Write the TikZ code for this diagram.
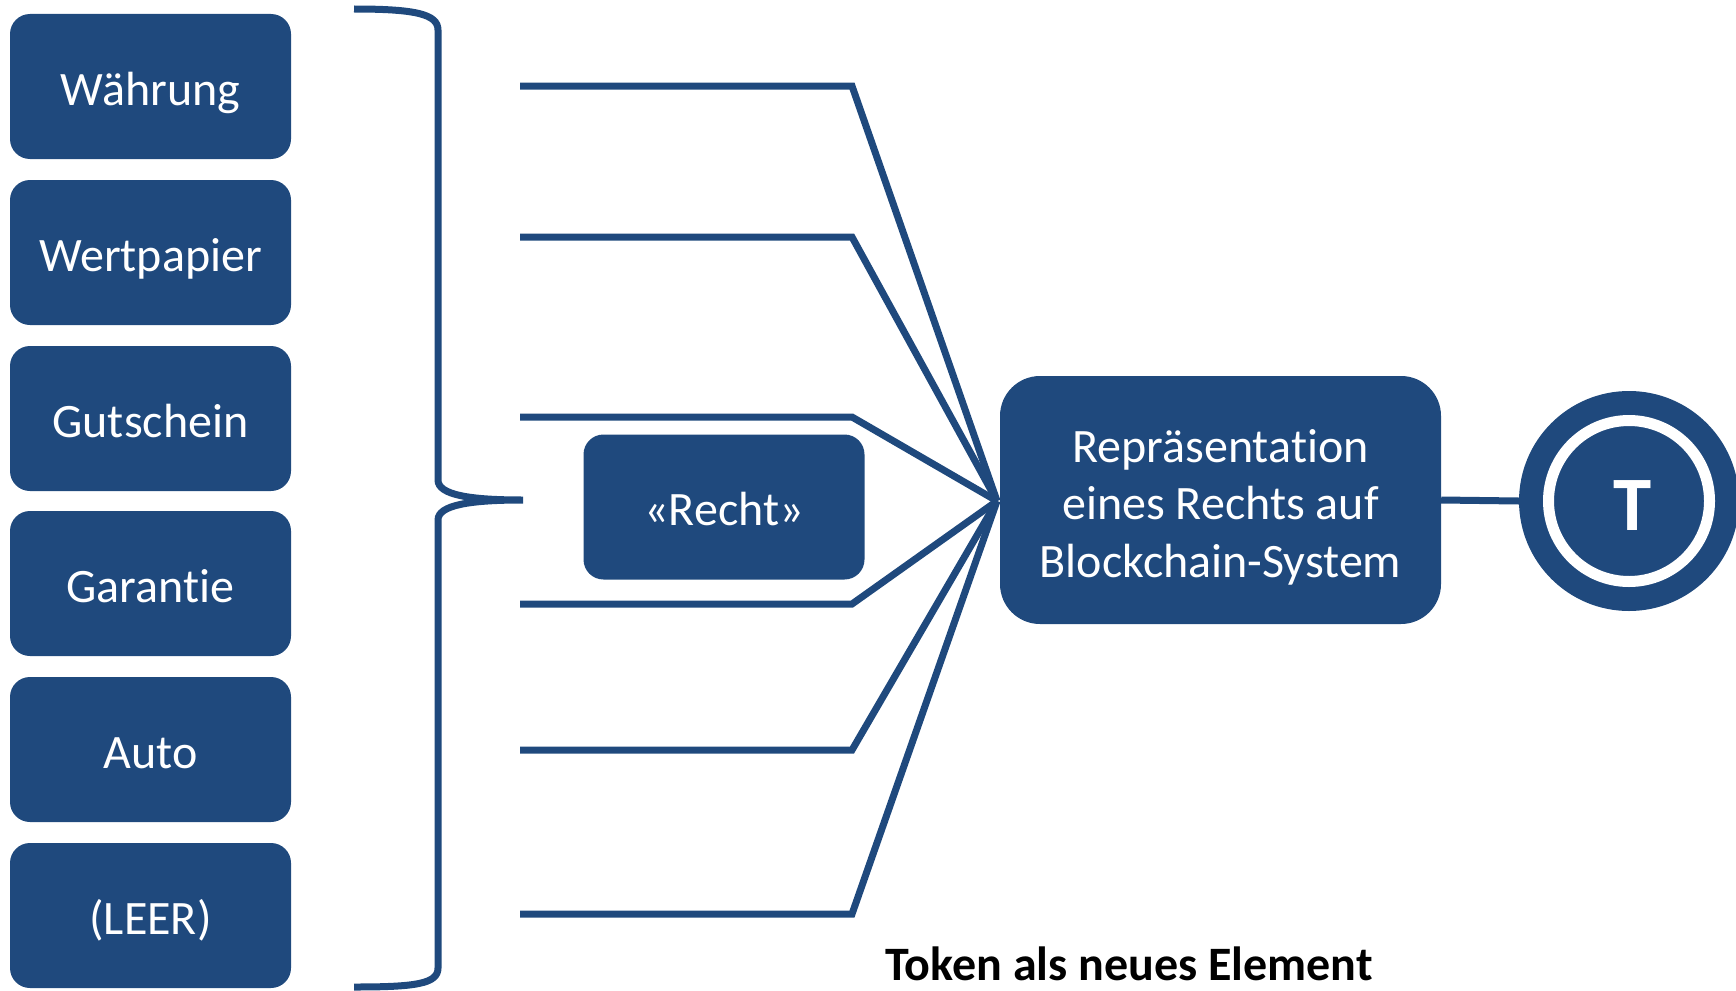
\documentclass[tikz,border=0pt]{standalone}
\usepackage{fontspec}
\setmainfont[Ligatures=NoCommon]{Carlito}
\definecolor{tblue}{HTML}{1F497D}
\begin{document}
\begin{tikzpicture}[x=1pt,y=-1pt,
  cat/.style={fill=tblue,rounded corners=20pt,minimum width=281pt,minimum height=145pt,inner sep=0pt,text=white,font=\fontsize{48}{57.5}\selectfont,text height=37pt,text depth=0pt},
  conn/.style={draw=tblue,line width=7pt},
  tok/.style={fill=tblue,circle,inner sep=0pt,minimum size=220pt}]
\useasboundingbox (0,0) rectangle (1736,990);
\node[cat] (w) at (150.5,86.5) {Währung};
\node[cat] (wp) at (150.5,252.5) {Wertpapier};
\node[cat] (g) at (150.5,418.5) {Gutschein};
\node[cat] (ga) at (150.5,583.5) {Garantie};
\node[cat] (au) at (150.5,749.5) {Auto};
\node[cat] (le) at (150.5,915.5) {(LEER)};
% brace
\draw[tblue,line width=7pt] (354,9) .. controls (415,9) and (438,14) .. (438,30) -- (438,480) .. controls (438,495) and (470,500) .. (523,500)
  .. controls (470,500) and (438,505) .. (438,520) -- (438,968) .. controls (438,984) and (415,987) .. (354,987);
\node[cat] (recht) at (724,507) {«Recht»};
\node[fill=tblue,rounded corners=40pt,minimum width=441pt,minimum height=248pt,inner sep=0pt] (rep) at (1220.5,500) {};
\node[text=white,align=center,font=\fontsize{48}{57.5}\selectfont] (reptext) at (1220.5,507) {Repräsentation\\eines Rechts auf\\Blockchain-System};
\coordinate (hub) at (997,501);
\foreach \i/\y in {1/86,2/237,3/417,4/604,5/750,6/914}{
  \coordinate (s\i) at (520,\y);
  \coordinate (k\i) at (852,\y);
  \draw[conn] (s\i) -- (k\i) -- (hub);
}
\node[tok] (tc) at (1629,501) {};
\draw[white,line width=11pt] (tc.center) circle[radius=80.5];
\node[text=white,font=\fontsize{77}{77}\selectfont\bfseries] (tt) at ([shift={(4,5)}]tc.center) {T};
\draw[conn] (rep.east) -- (tc.west);
\node[anchor=base,font=\fontsize{48}{57}\selectfont\bfseries] (cap) at (1129,980) {Token als neues Element};
\end{tikzpicture}
\end{document}
